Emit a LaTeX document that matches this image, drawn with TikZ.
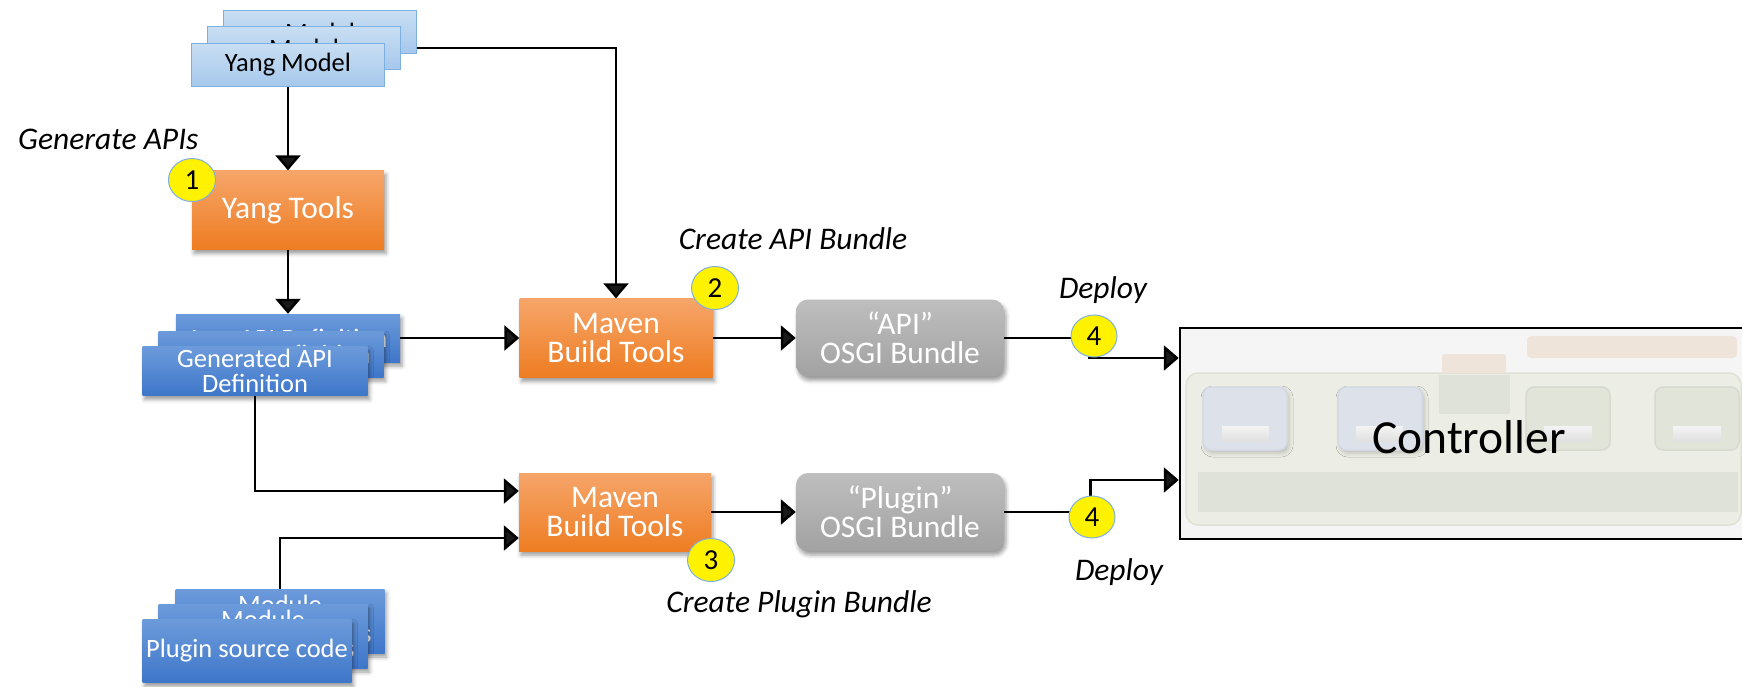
\documentclass[tikz,border=0pt]{standalone}
\usepackage{fontspec}
\setmainfont{Carlito}
\usetikzlibrary{shapes.geometric,arrows.meta,shadows,shadows.blur}
\definecolor{lbTop}{HTML}{C8DEF3}
\definecolor{lbBot}{HTML}{A6C8EC}
\definecolor{lbBorder}{HTML}{7DB0E0}
\definecolor{dbTop}{HTML}{6C9BDB}
\definecolor{dbBot}{HTML}{3E76C9}
\definecolor{orTop}{HTML}{F6A56A}
\definecolor{orBot}{HTML}{EE7D22}
\definecolor{grTop}{HTML}{BEBEBE}
\definecolor{grBot}{HTML}{A2A2A2}
\definecolor{numBorder}{HTML}{7DB0E0}
\definecolor{ctrlFill}{HTML}{F5F5F5}
\definecolor{innerFill}{HTML}{ECEEE5}
\definecolor{innerBorder}{HTML}{DFE1D7}
\definecolor{peach}{HTML}{EFE4DA}
\definecolor{greyGreen}{HTML}{DFE2D8}
\definecolor{blueSq}{HTML}{DCE1EA}
\definecolor{blueSqB}{HTML}{D3D9E4}
\definecolor{greenSq}{HTML}{E1E4D9}
\definecolor{greenSqB}{HTML}{D7DACF}
\definecolor{barTop}{HTML}{F4F4F4}
\definecolor{barBot}{HTML}{E0E0E0}
\newcommand{\fsz}[2]{\fontsize{#1}{#2}\selectfont}
\begin{document}
\begin{tikzpicture}[x=1pt,y=-1pt,
  arr/.style={line width=2.6pt,-{Triangle[length=15pt,width=25pt]}},
  softshadow/.style={blur shadow={shadow xshift=2pt,shadow yshift=-4pt,shadow blur radius=4pt,shadow opacity=40}},
  lbox/.style={draw=lbBorder,line width=1pt,top color=lbTop,bottom color=lbBot,
    minimum width=193pt,minimum height=43pt,inner sep=0pt,font=\fsz{26.5}{25}},
  dbox/.style={top color=dbTop,bottom color=dbBot,text=white,inner sep=0pt,
    softshadow,align=center},
  obox/.style={top color=orTop,bottom color=orBot,text=white,inner sep=0pt,
    minimum width=193pt,minimum height=79pt,softshadow,align=center,font=\fsz{31.5}{29}},
  gbox/.style={top color=grTop,bottom color=grBot,text=white,inner sep=0pt,rounded corners=12pt,
    minimum width=208pt,minimum height=77pt,softshadow,align=center,font=\fsz{31.5}{29}},
  num/.style={ellipse,fill=yellow,draw=numBorder,line width=1pt,minimum width=47pt,
    minimum height=43pt,inner sep=0pt,font=\fsz{29}{29}},
  lab/.style={font=\itshape\fsz{31.5}{31},inner sep=0pt},
  sq/.style={rounded corners=8pt,line width=1.5pt},
  bar/.style={top color=barTop,bottom color=barBot}
]
\useasboundingbox (0,0) rectangle (1742,686);
\begin{scope}
\clip (0,0) rectangle (1742,686);

% Yang model stack
\node[lbox] (ym3) at (320,32) {Model};
\node[lbox] (ym2) at (304,48) {Model};
\node[lbox] (ym1) at (288,65) {Yang Model};

% Yang tools
\node[obox,minimum width=192pt] (yt) at (288,210) {Yang Tools};

% Generated API stack
\node[dbox,minimum width=224pt,minimum height=48pt,font=\fsz{26.5}{25}] (ga3) at (288,338) {Java API Definition};
\node[dbox,minimum width=225pt,minimum height=46pt,font=\fsz{26.5}{25}] (ga2) at (271,354) {Java API Definition};
\node[dbox,minimum width=225pt,minimum height=49pt,font=\fsz{26.5}{25}] (ga1) at (255,371) {Generated API\\Definition};

% Plugin source stack
\node[dbox,minimum width=209pt,minimum height=64pt,font=\fsz{26.5}{29}] (ps3) at (280,621) {Module\\Implementations};
\node[dbox,minimum width=209pt,minimum height=64pt,font=\fsz{26.5}{29}] (ps2) at (263,636) {Module\\Implementations};
\node[dbox,minimum width=209pt,minimum height=63pt,font=\fsz{26.5}{25}] (ps1) at (247,651) {Plugin source code};

% Maven boxes
\node[obox] (mv1) at (616,338) {Maven\\Build Tools};
\node[obox,minimum width=192pt,minimum height=78pt] (mv2) at (615,512) {Maven\\Build Tools};

% OSGI bundles
\node[gbox] (api) at (900,338) {“API”\\OSGI Bundle};
\node[gbox,minimum height=78pt] (pl) at (900,512) {“Plugin”\\OSGI Bundle};

% Controller
\node[draw=black,line width=2.5pt,fill=ctrlFill,minimum width=590pt,minimum height=211pt,inner sep=0pt] (ctrl) at (1475,433.5) {};
\fill[innerFill,draw=innerBorder,line width=1.5pt,rounded corners=12pt] (1186,373) rectangle (1741,525);
\fill[peach,rounded corners=4pt] (1527,336) rectangle (1737,358);
\fill[peach,rounded corners=3pt] (1442,354) rectangle (1506,373);
\fill[greyGreen] (1439,375) rectangle (1510,414);
\fill[blueSq,draw=blueSqB,sq,blur shadow={shadow xshift=2pt,shadow yshift=-3pt,shadow blur radius=4pt,shadow opacity=20}] (1203,387) rectangle (1287,450);
\fill[blueSq,draw=blueSqB,sq,blur shadow={shadow xshift=2pt,shadow yshift=-3pt,shadow blur radius=4pt,shadow opacity=20}] (1338,387) rectangle (1422,450);
\fill[greenSq,draw=greenSqB,sq] (1526,387) rectangle (1610,450);
\fill[greenSq,draw=greenSqB,sq] (1655,387) rectangle (1739,450);
\shade[bar] (1222,426) rectangle (1269,441);
\shade[bar] (1356,426) rectangle (1403,441);
\shade[bar] (1544,426) rectangle (1592,441);
\shade[bar] (1673,426) rectangle (1721,441);
\fill[greyGreen] (1198,472) rectangle (1738,512);
\node[font=\fsz{47.5}{47},inner sep=0pt] (ctrltext) at (1469,437) {Controller};

% connectors
\draw[arr] (ym1.south) -- (yt.north);
\draw[arr] (yt.south) -- (ga3.north);
\draw[arr] ([yshift=-16pt]ym3.east) -| (mv1.north);
\draw[arr] (ga3.east) -- (mv1.west);
\draw[arr] (ga1.south) |- ([yshift=21pt]mv2.west);
\draw[arr] (ps3.north) |- ([yshift=-26pt]mv2.west);
\draw[arr] (mv1.east) -- (api.west);
\draw[arr] (mv2.east) -- (pl.west);
\draw[arr] (api.east) -- ++(85,0) |- ([yshift=75.5pt]ctrl.west);
\draw[arr] (pl.east) -- ++(86,0) |- ([yshift=-46.5pt]ctrl.west);

% numbered markers
\node[num] (n1) at (192,180) {1};
\node[num] (n2) at (715,288) {2};
\node[num] (n3) at (711,560) {3};
\node[num,minimum width=46pt,minimum height=42pt] (n4a) at (1094,336) {4};
\node[num,minimum width=46pt,minimum height=42pt] (n4b) at (1092,517) {4};

% labels
\node[lab,anchor=west] (l1) at (18,139) {Generate APIs};
\node[lab] (l2) at (793,239) {Create API Bundle};
\node[lab] (l3) at (799,604) {Create Plugin Bundle};
\node[lab] (l4) at (1103,290) {Deploy};
\node[lab] (l5) at (1119,572) {Deploy};
\end{scope}
\end{tikzpicture}
\end{document}
